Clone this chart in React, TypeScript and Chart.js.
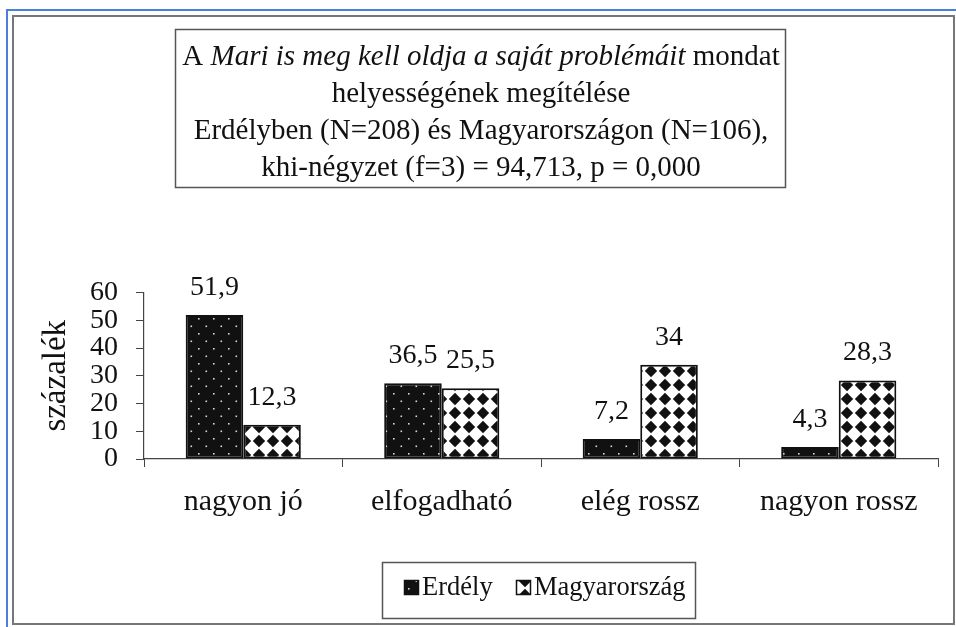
import React, { useEffect, useRef } from "react";
import { Chart, registerables } from "chart.js";

Chart.register(...registerables);

// ---- data ----
const categories = ["nagyon jó", "elfogadható", "elég rossz", "nagyon rossz"];
const seriesNames = ["Erdély", "Magyarország"];
const erdelyBars = [51.9, 27.3, 7.2, 4.3];
const erdelyLabels = ["51,9", "36,5", "7,2", "4,3"];
const magyarBars = [12.3, 25.5, 34, 28.3];
const magyarLabels = ["12,3", "25,5", "34", "28,3"];
const yTicks = [0, 10, 20, 30, 40, 50, 60];
const yTitle = "százalék";
const titleLines: [string, boolean][][] = [
  [["A ", false], ["Mari is meg kell oldja a saját problémáit", true], [" mondat", false]],
  [["helyességének megítélése", false]],
  [["Erdélyben (N=208) és Magyarországon (N=106),", false]],
  [["khi-négyzet (f=3) = 94,713, p = 0,000", false]],
];

const FONT = '"Liberation Serif", "Times New Roman", serif';

function makeDotPattern(): CanvasPattern | string {
  const c = document.createElement("canvas");
  c.width = 15;
  c.height = 15;
  const g = c.getContext("2d");
  if (!g) return "#111";
  g.fillStyle = "#111";
  g.fillRect(0, 0, 15, 15);
  g.fillStyle = "#d8d8d8";
  g.fillRect(3, 3, 1.6, 1.6);
  g.fillRect(10.5, 10.5, 1.6, 1.6);
  return g.createPattern(c, "repeat") || "#111";
}

function makeDiamondPattern(): CanvasPattern | string {
  const s = 14;
  const c = document.createElement("canvas");
  c.width = s;
  c.height = s;
  const g = c.getContext("2d");
  if (!g) return "#fff";
  g.fillStyle = "#fff";
  g.fillRect(0, 0, s, s);
  g.fillStyle = "#111";
  const cx = s / 2, cy = s / 2, r = 6.2;
  g.beginPath();
  g.moveTo(cx, cy - r);
  g.lineTo(cx + r, cy);
  g.lineTo(cx, cy + r);
  g.lineTo(cx - r, cy);
  g.closePath();
  g.fill();
  return g.createPattern(c, "repeat") || "#fff";
}

export default function App() {
  const ref = useRef<HTMLCanvasElement | null>(null);

  useEffect(() => {
    const canvas = ref.current;
    if (!canvas) return;
    const dotPat = makeDotPattern();
    const diaPat = makeDiamondPattern();

    const framePlugin = {
      id: "frame",
      beforeDraw(chart: any) {
        const ctx = chart.ctx as CanvasRenderingContext2D;
        ctx.save();
        ctx.fillStyle = "#fff";
        ctx.fillRect(0, 0, chart.width, chart.height);
        // blue outer lines
        ctx.strokeStyle = "#4b80d8";
        ctx.lineWidth = 2;
        ctx.beginPath();
        ctx.moveTo(7, 627);
        ctx.lineTo(7, 10);
        ctx.lineTo(956, 10);
        ctx.stroke();
        // gray frame
        ctx.strokeStyle = "#777";
        ctx.lineWidth = 2;
        ctx.strokeRect(13, 16, 941, 608);
        // title box
        ctx.strokeStyle = "#555";
        ctx.lineWidth = 1.5;
        ctx.strokeRect(175.5, 29.5, 610, 158);
        // title text
        ctx.fillStyle = "#111";
        ctx.textBaseline = "alphabetic";
        ctx.textAlign = "left";
        const baselines = [65, 102, 139, 176];
        titleLines.forEach((segs, li) => {
          let total = 0;
          const widths = segs.map(([t, it]) => {
            ctx.font = `${it ? "italic " : ""}29px ${FONT}`;
            const w = ctx.measureText(t).width;
            total += w;
            return w;
          });
          let x = 481 - total / 2;
          segs.forEach(([t, it], i) => {
            ctx.font = `${it ? "italic " : ""}29px ${FONT}`;
            ctx.fillText(t, x, baselines[li]);
            x += widths[i];
          });
        });
        ctx.restore();
      },
      afterDatasetsDraw(chart: any) {
        const ctx = chart.ctx as CanvasRenderingContext2D;
        ctx.save();
        ctx.font = `28px ${FONT}`;
        ctx.fillStyle = "#111";
        ctx.textAlign = "center";
        ctx.textBaseline = "alphabetic";
        chart.data.datasets.forEach((_ds: any, di: number) => {
          const meta = chart.getDatasetMeta(di);
          const labels = di === 0 ? erdelyLabels : magyarLabels;
          meta.data.forEach((bar: any, i: number) => {
            ctx.fillText(labels[i], bar.x, bar.y - 20);
          });
        });
        ctx.restore();
      },
      afterDraw(chart: any) {
        const ctx = chart.ctx as CanvasRenderingContext2D;
        ctx.save();
        // legend box
        ctx.strokeStyle = "#555";
        ctx.lineWidth = 1.5;
        ctx.strokeRect(382.5, 562.5, 313, 56);
        const items = [
          { x: 404, fill: dotPat, text: seriesNames[0] },
          { x: 516, fill: diaPat, text: seriesNames[1] },
        ];
        ctx.font = `26.5px ${FONT}`;
        ctx.textBaseline = "alphabetic";
        ctx.textAlign = "left";
        items.forEach((it) => {
          ctx.fillStyle = it.fill as any;
          ctx.fillRect(it.x, 580, 15, 15);
          ctx.strokeStyle = "#111";
          ctx.lineWidth = 1.5;
          ctx.strokeRect(it.x + 0.5, 580.5, 14, 14);
          ctx.fillStyle = "#111";
          ctx.fillText(it.text, it.x + 18, 595);
        });
        ctx.restore();
      },
    };

    const chart = new Chart(canvas, {
      type: "bar",
      data: {
        labels: categories,
        datasets: [
          {
            label: seriesNames[0],
            data: erdelyBars,
            backgroundColor: dotPat as any,
            borderColor: "#111",
            borderWidth: 2,
            borderSkipped: false,
            categoryPercentage: 0.58,
            barPercentage: 1.0,
          },
          {
            label: seriesNames[1],
            data: magyarBars,
            backgroundColor: diaPat as any,
            borderColor: "#111",
            borderWidth: 2,
            borderSkipped: false,
            categoryPercentage: 0.58,
            barPercentage: 1.0,
          },
        ],
      },
      options: {
        responsive: false,
        maintainAspectRatio: false,
        devicePixelRatio: 1,
        animation: false,
        layout: { padding: { left: 0, right: 18, top: 292.5, bottom: 0 } },
        plugins: {
          legend: { display: false },
          tooltip: { enabled: false },
          title: { display: false },
        },
        scales: {
          x: {
            offset: true,
            grid: {
              offset: true,
              drawOnChartArea: false,
              drawTicks: true,
              tickLength: 8,
              color: "#444",
            },
            border: { display: true, color: "#444", width: 1.2 },
            ticks: {
              autoSkip: false,
              maxRotation: 0,
              color: "#111",
              padding: 17,
              font: { family: FONT, size: 30 },
            },
            afterFit(scale: any) {
              scale.height = 168;
            },
          },
          y: {
            min: 0,
            max: 60,
            grid: {
              drawOnChartArea: false,
              drawTicks: true,
              tickLength: 8,
              color: "#444",
            },
            border: { display: true, color: "#444", width: 1.2 },
            ticks: {
              autoSkip: false,
              color: "#111",
              padding: 18,
              font: { family: FONT, size: 28, lineHeight: 1 },
            },
            afterBuildTicks(scale: any) {
              scale.ticks = yTicks.map((v) => ({ value: v }));
            },
            title: {
              display: true,
              text: yTitle,
              color: "#111",
              font: { family: FONT, size: 33 },
              padding: { top: 37, bottom: 0 },
            },
            afterFit(scale: any) {
              scale.width = 144;
            },
          },
        },
      },
      plugins: [framePlugin],
    });

    return () => {
      chart.destroy();
    };
  }, []);

  return (
    <div style={{ position: "fixed", left: 0, top: 0, width: 956, height: 627, background: "#fff" }}>
      <canvas ref={ref} width={956} height={627} style={{ display: "block", width: 956, height: 627 }} />
    </div>
  );
}
